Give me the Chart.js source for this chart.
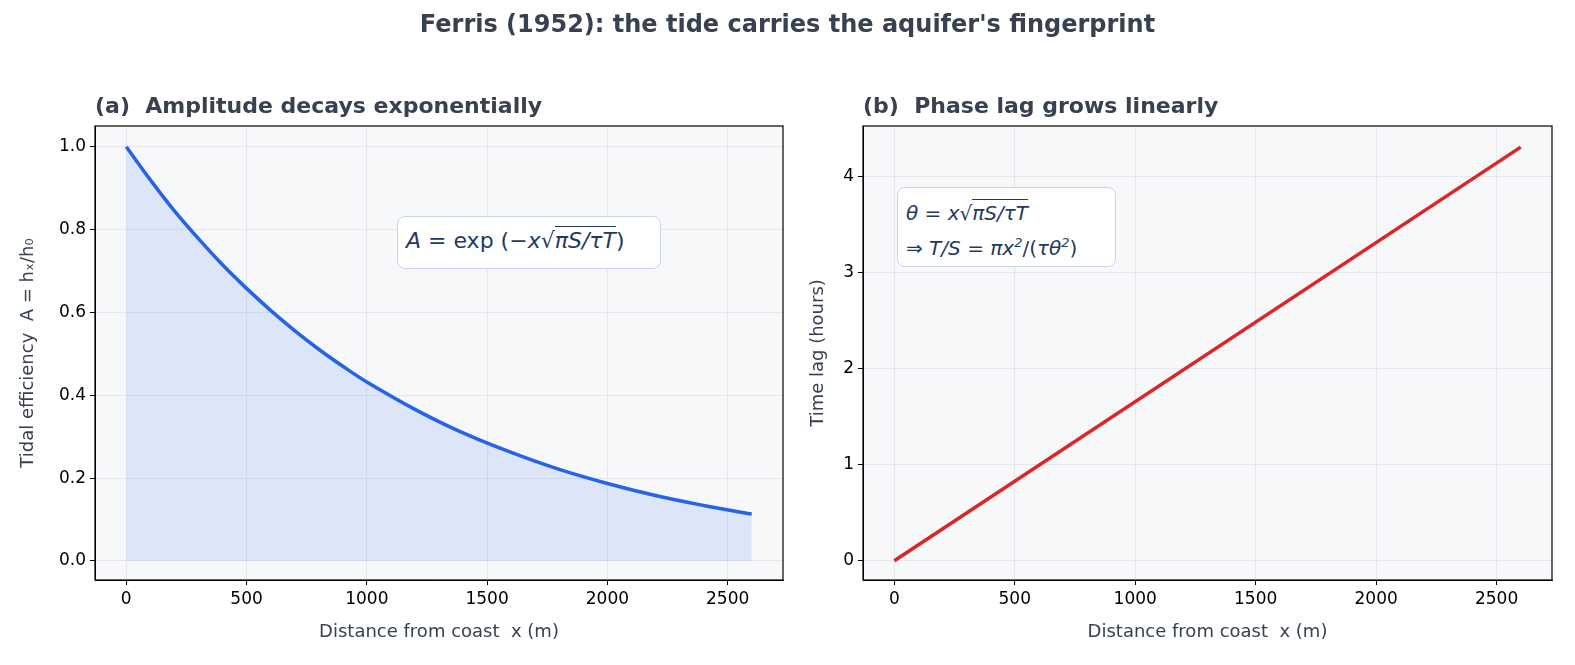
<!DOCTYPE html>
<html>
<head>
<meta charset="utf-8">
<script src="https://cdn.jsdelivr.net/npm/chart.js@4"></script>
<style>
  body { margin: 0; background: #fff; font-family: "DejaVu Sans", sans-serif; }
  #wrap { position: relative; width: 1575px; height: 665px; }
  canvas { position: absolute; top: 0; }
  .ttl { position: absolute; font-weight: bold; color: #374151; white-space: nowrap; }
  .box { position: absolute; background: #fff; border: 1.5px solid #cbd5e1; border-radius: 8px;
         color: #1e3a5f; font-size: 22px; font-style: italic; box-sizing: border-box; white-space: nowrap; }
  .rt { border-top: 1.4px solid #1e3a5f; padding-top: 1px; }
  .n { font-style: normal; }
</style>
</head>
<body>
<div id="wrap">
  <canvas id="c1" width="795" height="665" style="left:0"></canvas>
  <canvas id="c2" width="780" height="665" style="left:795px"></canvas>
  <div class="ttl" style="left:0;width:1575px;text-align:center;top:10px;font-size:24px">Ferris (1952): the tide carries the aquifer's fingerprint</div>
  <div class="ttl" style="left:95px;top:93px;font-size:22px">(a)&nbsp; Amplitude decays exponentially</div>
  <div class="ttl" style="left:863px;top:93px;font-size:22px">(b)&nbsp; Phase lag grows linearly</div>
  <div class="box" style="left:397px;top:216px;width:264px;height:53px;padding:11px 0 0 8px">A <span class="n">= exp</span> <span class="n">(</span>&minus;x&radic;<span class="rt">&pi;S/&tau;T</span><span class="n">)</span></div>
  <div class="box" style="left:897px;top:187px;width:219px;height:80px;padding:10px 0 0 8px;font-size:20px;line-height:30px">&theta; <span class="n">=</span> x&radic;<span class="rt">&pi;S/&tau;T</span><br><span class="n">&rArr;</span> T/S <span class="n">=</span> &pi;x<sup style="font-size:13px">2</sup><span class="n">/(</span>&tau;&theta;<sup style="font-size:13px">2</sup><span class="n">)</span></div>
</div>
<script>
// distance from coast (m)
const ampX = [0, 100, 200, 300, 400, 500, 600, 700, 800, 900, 1000, 1200, 1400, 1600, 1800, 2000, 2200, 2400, 2600];
// tidal efficiency
const ampY = [1.0, 0.92, 0.845, 0.778, 0.715, 0.658, 0.605, 0.556, 0.511, 0.47, 0.432, 0.366, 0.309, 0.262, 0.221, 0.187, 0.158, 0.134, 0.113];
// time lag (hours), panel (b)
const lagX = [0, 2600];
const lagY = [0, 4.31];
const xTicks = [0, 500, 1000, 1500, 2000, 2500];
const ampTicks = [0, 0.2, 0.4, 0.6, 0.8, 1.0];
const lagTicks = [0, 1, 2, 3, 4];

Chart.defaults.font.family = "'DejaVu Sans', sans-serif";
Chart.defaults.animation = false;

const frame = {
  id: 'frame',
  beforeDraw(c) {
    const a = c.chartArea, ctx = c.ctx;
    ctx.save(); ctx.fillStyle = '#f7f8fa';
    ctx.fillRect(a.left, a.top, a.right - a.left, a.bottom - a.top); ctx.restore();
  },
  afterDraw(c) {
    const a = c.chartArea, ctx = c.ctx;
    ctx.save(); ctx.strokeStyle = '#000'; ctx.lineWidth = 1.2;
    ctx.strokeRect(a.left, a.top, a.right - a.left, a.bottom - a.top); ctx.restore();
  }
};

function opts(yMin, yMax, yTicks, yTitle, padLeft, yWidth, fmt, rightPad) {
  return {
    responsive: false,
    layout: { padding: { top: 126, right: rightPad, left: padLeft, bottom: 18 } },
    plugins: { legend: { display: false }, tooltip: { enabled: false } },
    scales: {
      x: {
        type: 'linear', min: -130, max: 2730,
        afterBuildTicks: s => { s.ticks = xTicks.map(v => ({ value: v })); },
        afterFit: s => { s.height = 67; },
        grid: { color: '#e5e7eb', tickColor: '#000', tickLength: 5 },
        border: { color: '#000' },
        ticks: { color: '#000', font: { size: 17 }, padding: 4, callback: v => String(v) },
        title: { display: true, text: 'Distance from coast  x (m)', color: '#374151', font: { size: 18 } }
      },
      y: {
        min: yMin, max: yMax,
        afterBuildTicks: s => { s.ticks = yTicks.map(v => ({ value: v })); },
        afterFit: s => { s.width = yWidth; },
        grid: { color: '#e5e7eb', tickColor: '#000', tickLength: 5 },
        border: { color: '#000' },
        ticks: { color: '#000', font: { size: 17 }, padding: 4, callback: fmt },
        title: { display: true, text: yTitle, color: '#374151', font: { size: 18 } }
      }
    }
  };
}

new Chart(document.getElementById('c1'), {
  type: 'line',
  data: { datasets: [{
    data: ampX.map((x, i) => ({ x, y: ampY[i] })),
    borderColor: '#2563eb', borderWidth: 3.5, pointRadius: 0, tension: 0.4,
    fill: 'origin', backgroundColor: 'rgba(37,99,235,0.12)'
  }] },
  options: opts(-0.046, 1.05, ampTicks, 'Tidal efficiency  A = hₓ/h₀', 14, 81, v => v.toFixed(1), 12),
  plugins: [frame]
});

new Chart(document.getElementById('c2'), {
  type: 'line',
  data: { datasets: [{
    data: lagX.map((x, i) => ({ x, y: lagY[i] })),
    borderColor: '#dc2626', borderWidth: 3.5, pointRadius: 0
  }] },
  options: opts(-0.2, 4.53, lagTicks, 'Time lag (hours)', 9, 59, v => v, 23),
  plugins: [frame]
});
</script>
</body>
</html>
